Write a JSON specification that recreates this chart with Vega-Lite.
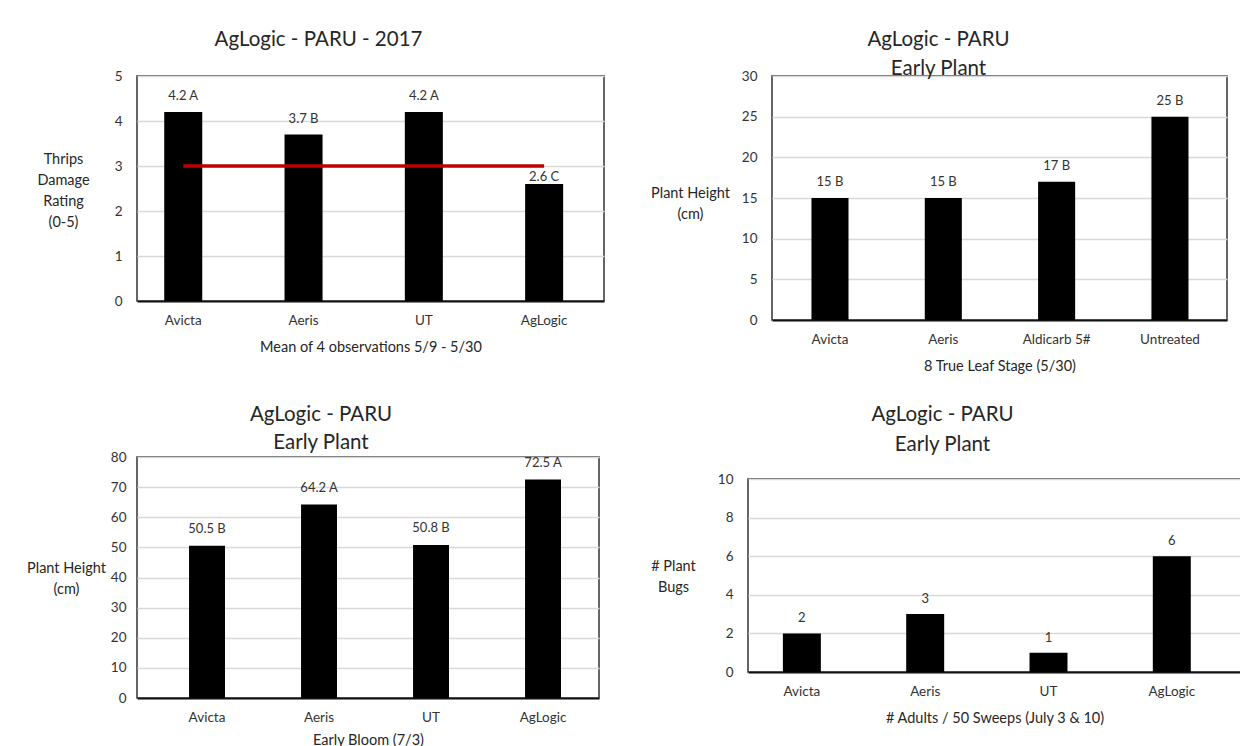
{
  "$schema": "https://vega.github.io/schema/vega-lite/v6.json",
  "background": "white",
  "padding": {"left": 25, "top": 28, "right": 4, "bottom": 0},
  "columns": 2,
  "align": "none",
  "spacing": {"row": 29, "column": 44},
  "datasets": {
    "thrips": [
      {"trt": "Avicta", "v": 4.2, "lbl": "4.2 A", "ref": 3},
      {"trt": "Aeris", "v": 3.7, "lbl": "3.7 B", "ref": 3},
      {"trt": "UT", "v": 4.2, "lbl": "4.2 A", "ref": 3},
      {"trt": "AgLogic", "v": 2.6, "lbl": "2.6 C", "ref": 3}
    ],
    "leaf": [
      {"trt": "Avicta", "v": 15, "lbl": "15 B"},
      {"trt": "Aeris", "v": 15, "lbl": "15 B"},
      {"trt": "Aldicarb 5#", "v": 17, "lbl": "17 B"},
      {"trt": "Untreated", "v": 25, "lbl": "25 B"}
    ],
    "bloom": [
      {"trt": "Avicta", "v": 50.5, "lbl": "50.5 B"},
      {"trt": "Aeris", "v": 64.2, "lbl": "64.2 A"},
      {"trt": "UT", "v": 50.8, "lbl": "50.8 B"},
      {"trt": "AgLogic", "v": 72.5, "lbl": "72.5 A"}
    ],
    "bugs": [
      {"trt": "Avicta", "v": 2, "lbl": "2"},
      {"trt": "Aeris", "v": 3, "lbl": "3"},
      {"trt": "UT", "v": 1, "lbl": "1"},
      {"trt": "AgLogic", "v": 6, "lbl": "6"}
    ]
  },
  "concat": [
    {
      "width": 467,
      "height": 225,
      "title": {"text": "AgLogic - PARU - 2017", "dx": -52, "offset": 19},
      "data": {"name": "thrips"},
      "encoding": {
        "x": {"field": "trt", "type": "nominal", "sort": null,
          "scale": {"paddingInner": 0.684, "paddingOuter": 0.283, "align": 0.4},
          "axis": {"title": "Mean of 4 observations 5/9 - 5/30", "titlePadding": 14}},
        "y": {"field": "v", "type": "quantitative", "scale": {"domain": [0, 5]},
          "axis": {"values": [0, 1, 2, 3, 4, 5], "title": ["Thrips", "Damage", "Rating", "(0-5)"],
            "titleAngle": 0, "titleX": -74, "titleY": 83, "titleAlign": "center", "titleBaseline": "middle", "titleLineHeight": 21}}
      },
      "layer": [
        {"mark": "bar"},
        {"mark": {"type": "line", "color": "#c00000", "strokeWidth": 3.5},
         "encoding": {"y": {"field": "ref", "type": "quantitative", "scale": {"domain": [0, 5]},
           "axis": {"values": [0, 1, 2, 3, 4, 5], "title": ["Thrips", "Damage", "Rating", "(0-5)"],
             "titleAngle": 0, "titleX": -74, "titleY": 83, "titleAlign": "center", "titleBaseline": "middle", "titleLineHeight": 21}}}},
        {"transform": [{"filter": "datum.trt !== 'AgLogic'"}],
         "mark": {"type": "text", "baseline": "middle", "dy": -16},
         "encoding": {"text": {"field": "lbl"}}},
        {"transform": [{"filter": "datum.trt === 'AgLogic'"}],
         "mark": {"type": "text", "baseline": "middle", "dy": -7},
         "encoding": {"text": {"field": "lbl"}}}
      ]
    },
    {
      "width": 455,
      "height": 244,
      "title": {"text": ["AgLogic - PARU", "Early Plant"], "dx": -61, "offset": -10, "lineHeight": 29},
      "data": {"name": "leaf"},
      "encoding": {
        "x": {"field": "trt", "type": "nominal", "sort": null,
          "scale": {"paddingInner": 0.673, "paddingOuter": 0.344, "align": 0.506},
          "axis": {"title": "8 True Leaf Stage (5/30)", "titlePadding": 14}},
        "y": {"field": "v", "type": "quantitative", "scale": {"domain": [0, 30]},
          "axis": {"values": [0, 5, 10, 15, 20, 25, 30], "title": ["Plant Height", "(cm)"],
            "titleAngle": 0, "titleX": -82, "titleY": 117, "titleAlign": "center", "titleBaseline": "middle", "titleLineHeight": 21}}
      },
      "layer": [
        {"mark": "bar"},
        {"mark": {"type": "text", "baseline": "middle", "dy": -16},
         "encoding": {"text": {"field": "lbl"}}}
      ]
    },
    {
      "width": 462,
      "height": 241,
      "title": {"text": ["AgLogic - PARU", "Early Plant"], "dx": -47, "offset": -3, "lineHeight": 28},
      "data": {"name": "bloom"},
      "encoding": {
        "x": {"field": "trt", "type": "nominal", "sort": null,
          "scale": {"paddingInner": 0.679, "paddingOuter": 0.402, "align": 0.578},
          "axis": {"title": "Early Bloom (7/3)", "titlePadding": 10}},
        "y": {"field": "v", "type": "quantitative", "scale": {"domain": [0, 80]},
          "axis": {"values": [0, 10, 20, 30, 40, 50, 60, 70, 80], "title": ["Plant Height", "(cm)"], "labelPadding": 11,
            "titleAngle": 0, "titleX": -71, "titleY": 111, "titleAlign": "center", "titleBaseline": "middle", "titleLineHeight": 21}}
      },
      "layer": [
        {"mark": "bar"},
        {"mark": {"type": "text", "baseline": "middle", "dy": -17},
         "encoding": {"text": {"field": "lbl"}}}
      ]
    },
    {
      "width": 493,
      "height": 193,
      "title": {"text": ["AgLogic - PARU", "Early Plant"], "dx": -52, "offset": 17, "lineHeight": 30},
      "data": {"name": "bugs"},
      "encoding": {
        "x": {"field": "trt", "type": "nominal", "sort": null,
          "scale": {"paddingInner": 0.692, "paddingOuter": 0.345, "align": 0.41},
          "axis": {"title": "# Adults / 50 Sweeps (July 3 & 10)", "titlePadding": 14}},
        "y": {"field": "v", "type": "quantitative", "scale": {"domain": [0, 10]},
          "axis": {"values": [0, 2, 4, 6, 8, 10], "title": ["# Plant", "Bugs"],
            "titleAngle": 0, "titleX": -75, "titleY": 87, "titleAlign": "center", "titleBaseline": "middle", "titleLineHeight": 21}}
      },
      "layer": [
        {"mark": "bar"},
        {"mark": {"type": "text", "baseline": "middle", "dy": -15},
         "encoding": {"text": {"field": "lbl"}}}
      ]
    }
  ],
  "config": {
    "font": "Lato",
    "view": {"stroke": "#333333", "strokeWidth": 1.5},
    "axis": {"labelFont": "Lato", "labelFontSize": 13.5, "labelColor": "#333333", "titleFont": "Lato", "titleFontSize": 14.5, "titleFontWeight": "normal", "titleColor": "#262626", "ticks": false, "gridColor": "#d9d9d9", "gridWidth": 1.4, "domain": false},
    "axisX": {"domain": true, "domainColor": "#111111", "domainWidth": 2, "labelAngle": 0, "labelPadding": 12, "grid": false},
    "axisY": {"labelPadding": 15},
    "title": {"font": "Lato", "fontSize": 20.5, "fontWeight": "normal", "color": "#262626", "anchor": "middle"},
    "bar": {"color": "#000000"},
    "text": {"font": "Lato", "fontSize": 13, "color": "#333333"}
  }
}
